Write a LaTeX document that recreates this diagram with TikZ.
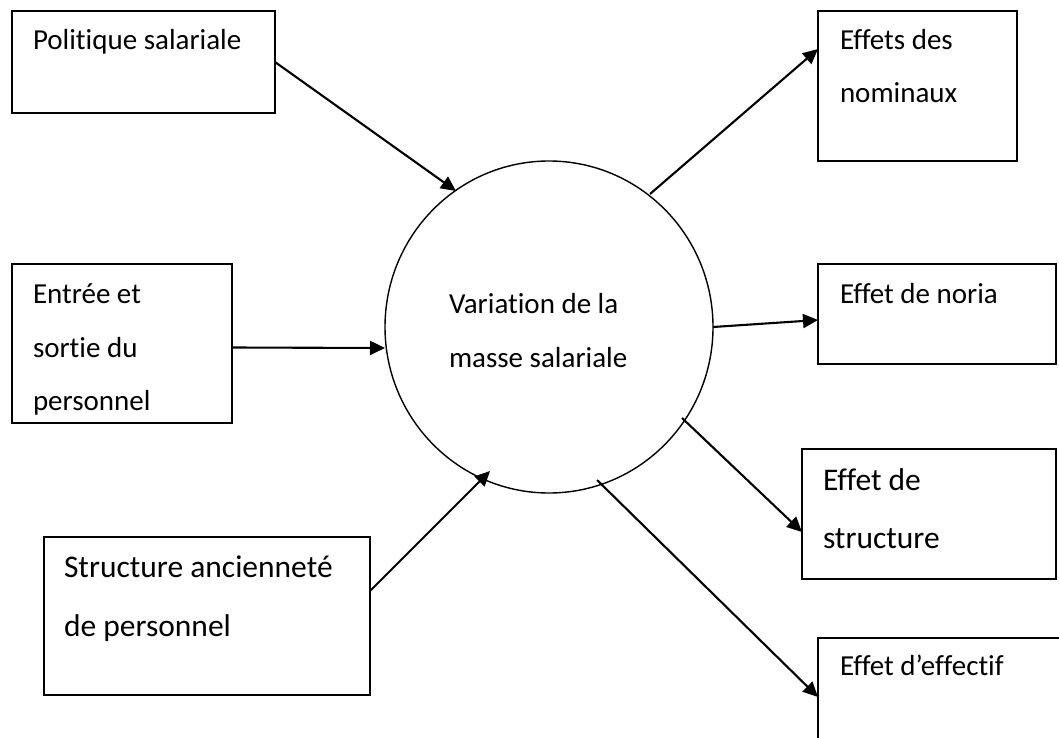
\documentclass[tikz,border=0pt]{standalone}
\usepackage{fontspec}
\setmainfont{Carlito}[Ligatures={NoCommon}]
\usetikzlibrary{arrows.meta,calc,shapes.geometric}
\begin{document}
\begin{tikzpicture}[x=1pt,y=-1pt,
  box/.style={draw=black, line width=1.4pt, rectangle, inner sep=0pt, outer sep=0pt, anchor=north west},
  lbl/.style={inner sep=0pt, outer sep=0pt, anchor=base west, font=\fontsize{29}{35}\selectfont},
  lblbig/.style={lbl, font=\fontsize{31.5}{38}\selectfont},
  link/.style={line width=2.1pt, -{Triangle[length=15pt,width=14pt]}},
]
\useasboundingbox (0,0) rectangle (1059,738);
\fill[white] (0,0) rectangle (1059,738);
\clip (0,0) rectangle (1059,738);

% central circle
\node[ellipse, draw=black, line width=1.4pt, inner sep=0pt, outer sep=0pt,
      minimum width=328pt, minimum height=332pt] (var) at (549,327) {};
\node[lbl] (var1) at (449,313) {Variation de la};
\node[lbl] (var2) at (449,367) {masse salariale};

% causes (left)
\node[box, minimum width=263pt, minimum height=102pt] (pol) at (12,11) {};
\node[lbl] (pol1) at (33,50) {Politique salariale};

\node[box, minimum width=220pt, minimum height=159pt] (ent) at (12,264) {};
\node[lbl] (ent1) at (33,303) {Entrée et};
\node[lbl] (ent2) at (33,357) {sortie du};
\node[lbl] (ent3) at (33,410) {personnel};

\node[box, minimum width=326pt, minimum height=158pt] (anc) at (44,537) {};
\node[lblbig] (anc1) at (64,577) {Structure ancienneté};
\node[lblbig] (anc2) at (64,636) {de personnel};

% effects (right)
\node[box, minimum width=199pt, minimum height=150pt] (nom) at (818,11) {};
\node[lbl] (nom1) at (840,50) {Effets des};
\node[lbl] (nom2) at (840,103) {nominaux};

\node[box, minimum width=238pt, minimum height=100pt] (nor) at (818,264) {};
\node[lbl] (nor1) at (840,303) {Effet de noria};

\node[box, minimum width=254pt, minimum height=130pt] (str) at (802,449) {};
\node[lblbig] (str1) at (823,490) {Effet de};
\node[lblbig] (str2) at (823,548) {structure};

\node[box, minimum width=270pt, minimum height=140pt] (eff) at (818,638) {};
\node[lbl] (eff1) at (840,675) {Effet d’effectif};

% connectors
\draw[link] (pol.east) -- ($(var.center)+(-93,-136)$);
\draw[link] ([yshift=-4pt]ent.east) -- ($(var.center)+(-164,21)$);
\draw[link] ([yshift=-54pt]anc.north east) -- ($(var.center)+(-59,144)$);
\draw[link] ($(var.center)+(101,-133)$) -- ([yshift=-38pt]nom.north west);
\draw[link] (var.east) -- ([yshift=-6pt]nor.west);
\draw[link] ($(var.center)+(133,91)$) -- ([yshift=-83pt]str.north west);
\draw[link] ($(var.center)+(48,153)$) -- ([yshift=-59pt]eff.north west);
\end{tikzpicture}
\end{document}
